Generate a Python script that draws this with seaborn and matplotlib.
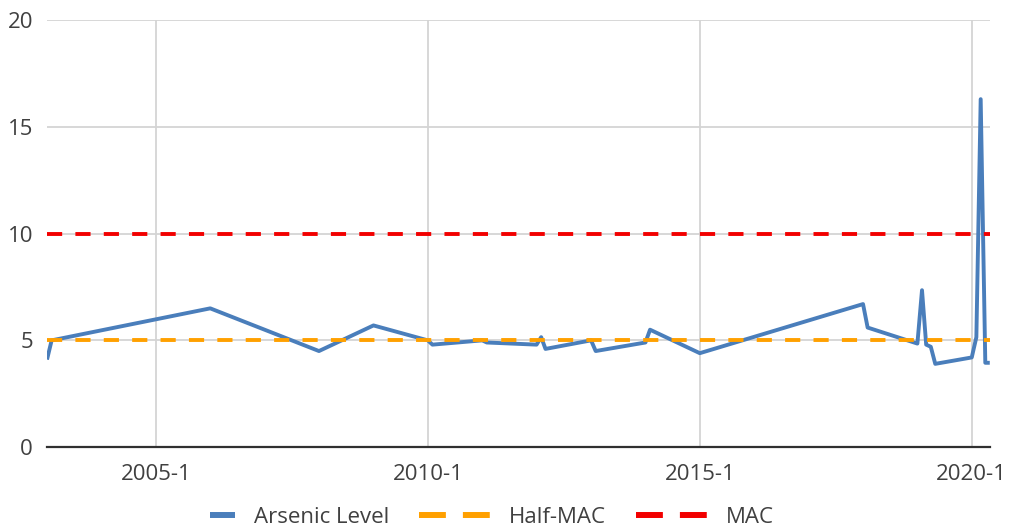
import numpy as np
import pandas as pd
import matplotlib
matplotlib.use("Agg")
import matplotlib.pyplot as plt
from matplotlib.lines import Line2D
from matplotlib.ticker import FuncFormatter
from matplotlib.legend_handler import HandlerLine2D
import matplotlib.dates as mdates
import seaborn as sns

# values
sample_dates = ["2003-01", "2003-02", "2006-01", "2008-01", "2009-01", "2010-01", "2010-02",
                "2011-01", "2011-02", "2012-01", "2012-02", "2012-03", "2013-01", "2013-02",
                "2014-01", "2014-02", "2015-01", "2018-01", "2018-02", "2019-01", "2019-02",
                "2019-03", "2019-04", "2019-05", "2020-01", "2020-02", "2020-03", "2020-04",
                "2020-05"]
arsenic_level = [4.1, 5.0, 6.5, 4.5, 5.7, 5.0, 4.8,
                 5.0, 4.9, 4.8, 5.15, 4.6, 5.0, 4.5,
                 4.9, 5.5, 4.4, 6.7, 5.6, 4.85, 7.35,
                 4.8, 4.7, 3.9, 4.2, 5.15, 16.3, 3.95,
                 3.95]
half_mac = 5
mac = 10
x_ticks = ["2005-01", "2010-01", "2015-01", "2020-01"]
y_ticks = [0, 5, 10, 15, 20]

df = pd.DataFrame({"Date": pd.to_datetime(sample_dates), "Arsenic Level": arsenic_level})
df["Half-MAC"] = half_mac
df["MAC"] = mac

BLUE = "#4a7ebb"
ORANGE = "#ffa000"
RED = "#f20000"
TEXT = "#404040"

sns.set_style("white")
plt.rcParams["font.family"] = ["Open Sans", "DejaVu Sans"]

fig = plt.figure(figsize=(10.11, 5.31), dpi=100)
ax = fig.add_axes([0.0465, 0.158, 0.9325, 0.804])

dash = (0, (3.9, 3.4))
sns.lineplot(data=df, x="Date", y="Arsenic Level", ax=ax, color=BLUE, lw=2.8,
             solid_capstyle="butt")
sns.lineplot(data=df, x="Date", y="Half-MAC", ax=ax, color=ORANGE, lw=2.8, linestyle=dash)
sns.lineplot(data=df, x="Date", y="MAC", ax=ax, color=RED, lw=2.8, linestyle=dash)

ax.set_xlim(df["Date"].min(), df["Date"].max())
ax.set_ylim(0, 20)
ax.set_xticks(pd.to_datetime(x_ticks))
ax.set_yticks(y_ticks)
ax.xaxis.set_major_formatter(FuncFormatter(
    lambda v, p: "{}-{}".format(mdates.num2date(v).year, mdates.num2date(v).month)))
ax.set_xlabel("")
ax.set_ylabel("")

ax.grid(True, color="#d4d4d4", lw=1.3)
ax.set_axisbelow(True)
for s in ["top", "right", "left"]:
    ax.spines[s].set_visible(False)
ax.spines["bottom"].set_color("#303030")
ax.spines["bottom"].set_linewidth(1.6)
ax.tick_params(axis="both", length=0, labelsize=16, labelcolor=TEXT)
ax.tick_params(axis="y", pad=10)
ax.tick_params(axis="x", pad=12)


class ShortHandle(HandlerLine2D):
    # Excel style: short solid swatch, right aligned next to the label
    def get_xdata(self, legend, xdescent, ydescent, width, height, fontsize):
        x1 = -xdescent + width
        return np.array([x1 - 0.35 * width, x1]), np.array([x1 - 0.17 * width])


h_blue = Line2D([], [], color=BLUE, lw=4.3, solid_capstyle="butt")
h_orange = Line2D([], [], color=ORANGE, lw=4.3, linestyle=(0, (4.5, 2.85)))
h_red = Line2D([], [], color=RED, lw=4.3, linestyle=(0, (4.5, 2.85)))
leg = fig.legend([h_blue, h_orange, h_red], ["Arsenic Level", "Half-MAC", "MAC"],
                 loc="center", bbox_to_anchor=(0.464, 0.026), ncol=3, frameon=False,
                 fontsize=16, handlelength=3.2, handletextpad=0.85, columnspacing=1.35,
                 handler_map={h_blue: ShortHandle()})
for t in leg.get_texts():
    t.set_color(TEXT)

fig.savefig("out.png", dpi=100)
